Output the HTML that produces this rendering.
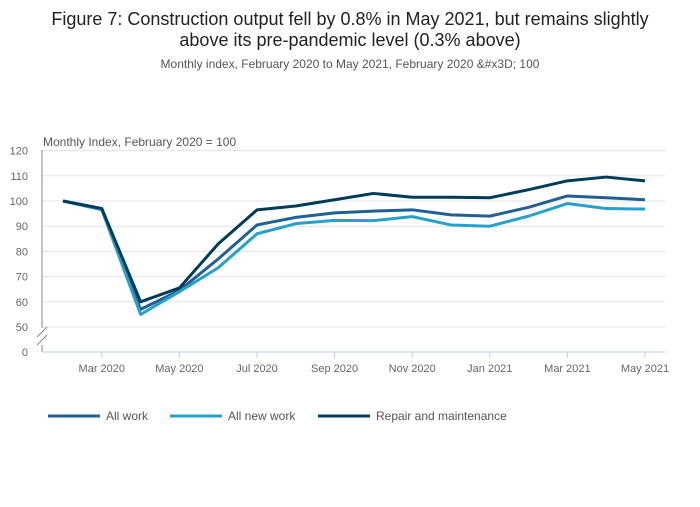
<!DOCTYPE html>
<html><head><meta charset="utf-8"><style>
body{margin:0;background:#fff;font-family:"Liberation Sans",sans-serif;}
svg text{font-family:"Liberation Sans",sans-serif;}
</style></head><body>
<svg width="700" height="502">
<text x="350" y="25" text-anchor="middle" font-size="18" fill="#222">Figure 7: Construction output fell by 0.8% in May 2021, but remains slightly</text>
<text x="350" y="46" text-anchor="middle" font-size="18" fill="#222">above its pre-pandemic level (0.3% above)</text>
<text x="350" y="68" text-anchor="middle" font-size="12" fill="#555">Monthly index, February 2020 to May 2021, February 2020 &amp;#x3D; 100</text>
<text x="43" y="146" font-size="12" fill="#555">Monthly Index, February 2020 = 100</text>
<g id="grid"></g><g id="axes"></g><g id="series"></g><g id="legend"></g>
</svg>
<script>
const months=["Feb 2020","Mar 2020","Apr 2020","May 2020","Jun 2020","Jul 2020","Aug 2020","Sep 2020","Oct 2020","Nov 2020","Dec 2020","Jan 2021","Feb 2021","Mar 2021","Apr 2021","May 2021"];
const allWork=[100,97,57,64.5,77,90.5,93.5,95.3,96,96.5,94.5,94,97.5,102,101.3,100.5];
const allNewWork=[100,96.5,55,64,73.5,87,91,92.3,92.2,93.8,90.5,90,94,99,97,96.8];
const repair=[100,97,60,65.5,83,96.5,98,100.5,103,101.5,101.5,101.3,104.5,108,109.5,108];
const yTicks=[50,60,70,80,90,100,110,120];
const xLabelIdx=[1,3,5,7,9,11,13,15];
const NS="http://www.w3.org/2000/svg";
function X(i){return 63+i*(645-63)/(months.length-1);}
function Y(v){return 327-(v-50)*2.52;}
function mk(t,a,p){const e=document.createElementNS(NS,t);for(const k in a)e.setAttribute(k,a[k]);p.appendChild(e);return e;}
const grid=document.getElementById('grid'),axes=document.getElementById('axes'),ser=document.getElementById('series'),leg=document.getElementById('legend');
yTicks.forEach(v=>{const l=mk('line',{x1:42,x2:665,y1:Y(v),y2:Y(v),stroke:'#e3e3e3'},grid);


const t=mk('text',{x:28,y:Y(v)+4,'text-anchor':'end','font-size':11,fill:'#666'},axes);t.textContent=v;

});
const z=mk('text',{x:28,y:356,'text-anchor':'end','font-size':11,fill:'#666'},axes);z.textContent='0';


const ya=mk('path',{d:'M42,150 V328 M42,345 V352',stroke:'#888',fill:'none'},axes);


const br=mk('path',{d:'M37,337 L47,327 M37,345 L47,335',stroke:'#888',fill:'none'},axes);


const xa=mk('line',{x1:42,x2:665,y1:352,y2:352,stroke:'#bfcfe6'},axes);


xLabelIdx.forEach(i=>{const tk=mk('line',{x1:X(i),x2:X(i),y1:352,y2:358,stroke:'#bfcfe6'},axes);


const t=mk('text',{x:X(i),y:372,'text-anchor':'middle','font-size':11,fill:'#666'},axes);t.textContent=months[i].replace('Feb','Feb');

});
const series=[["all-work",allWork,"#206095","All work"],["all-new-work",allNewWork,"#27a0cc","All new work"],["repair-and-maintenance",repair,"#003c57","Repair and maintenance"]];
series.forEach(([n,d,c])=>{const p=mk('path',{d:d.map((v,i)=>(i?'L':'M')+X(i)+','+Y(v)).join(' '),stroke:c,'stroke-width':3,fill:'none','stroke-linejoin':'round'},ser);

});
const lx=[48,170,318];
series.forEach(([n,d,c,label],k)=>{const l=mk('line',{x1:lx[k],x2:lx[k]+52,y1:416,y2:416,stroke:c,'stroke-width':3},leg);


const t=mk('text',{x:lx[k]+58,y:420,'font-size':12,fill:'#555'},leg);t.textContent=label;

});
</script>
</body></html>
